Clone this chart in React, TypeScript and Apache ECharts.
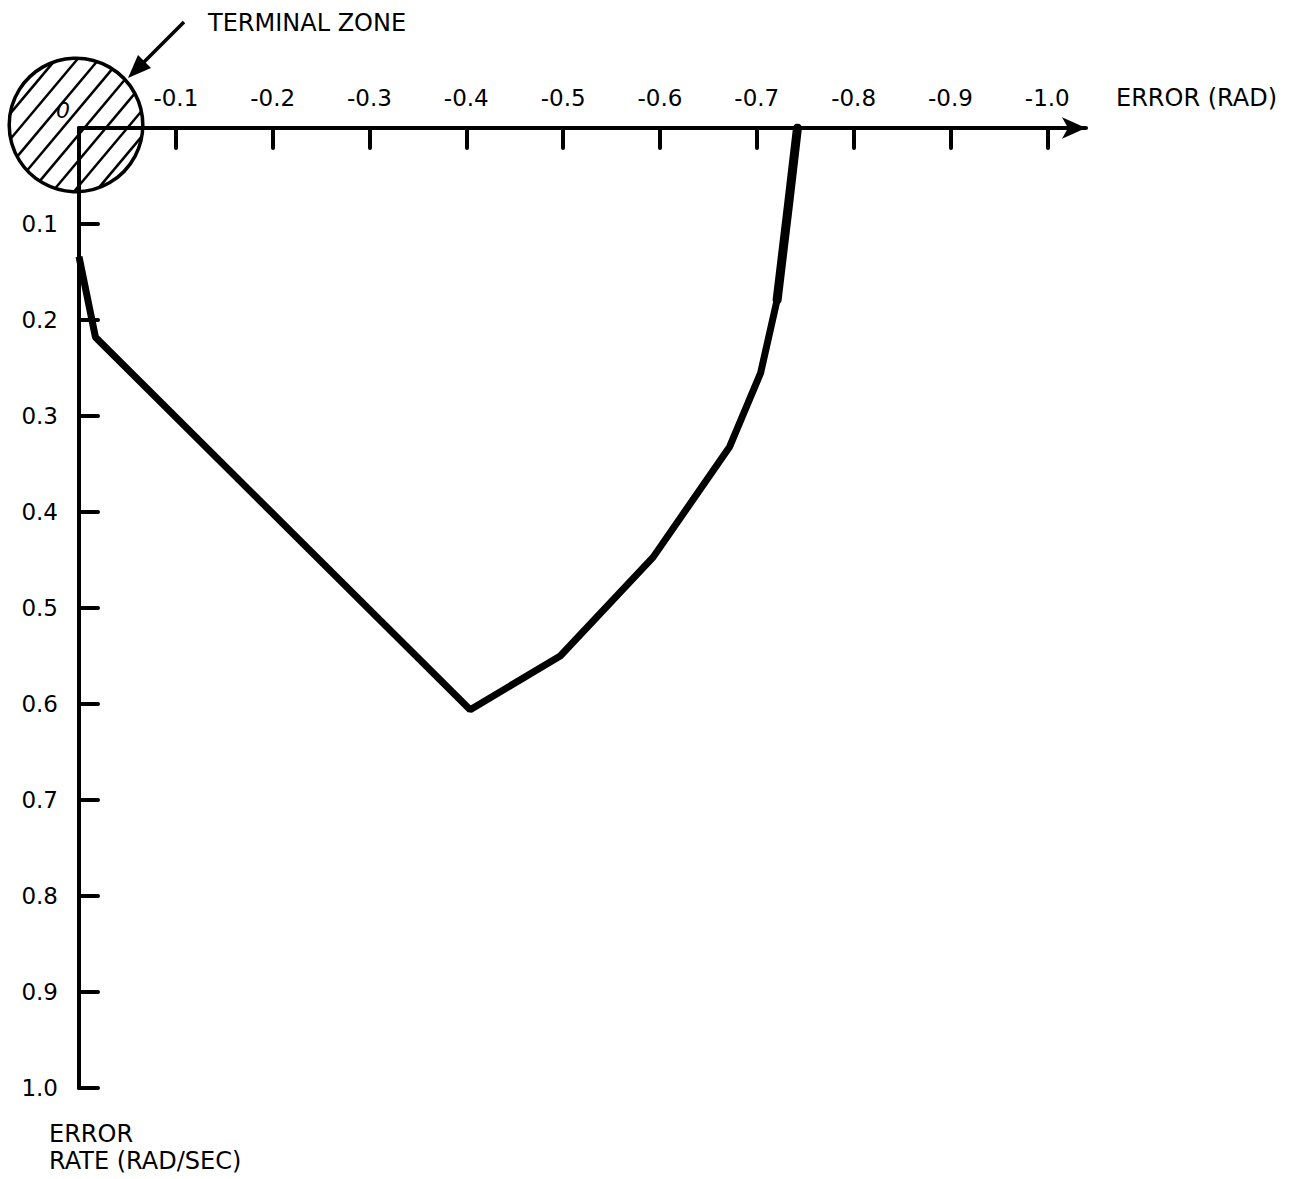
import React, { useEffect, useRef } from "react";
import * as echarts from "echarts";

// Phase-plane trajectory: error (rad) vs. error rate (rad/sec)
const errorTicks = [-0.1, -0.2, -0.3, -0.4, -0.5, -0.6, -0.7, -0.8, -0.9, -1.0];
const rateTicks = [0.1, 0.2, 0.3, 0.4, 0.5, 0.6, 0.7, 0.8, 0.9, 1.0];

// [error, error rate] vertices of the switching trajectory
const trajectory: [number, number][] = [
  [0, 0.134],
  [-0.017, 0.218],
  [-0.404, 0.606],
  [-0.497, 0.55],
  [-0.593, 0.447],
  [-0.672, 0.332],
  [-0.704, 0.255],
  [-0.721, 0.179],
  [-0.733, 0.078],
  [-0.742, 0],
];
// steep final approach, drawn heavier
const finalApproach: [number, number][] = [
  [-0.721, 0.179],
  [-0.733, 0.078],
  [-0.742, 0],
];

// terminal zone: [error, rate, radius in rad]
const terminalZone: [number, number, number][] = [[0, 0, 0.069]];

const FONT = "DejaVu Sans";

export default function App() {
  const ref = useRef<HTMLDivElement>(null);

  useEffect(() => {
    if (!ref.current) return;
    const chart = echarts.init(ref.current, undefined, { renderer: "svg" });

    const option: any = {
      animation: false,
      backgroundColor: "#ffffff",
      grid: { left: 79, top: 128, width: 1007, height: 960, containLabel: false },
      xAxis: {
        type: "value",
        position: "top",
        inverse: true,
        min: -1.04,
        max: 0,
        splitLine: { show: false },
        axisLine: {
          show: true,
          onZero: false,
          symbol: ["none", "arrow"],
          symbolSize: [16, 24],
          lineStyle: { color: "#000", width: 4 },
        },
        axisTick: {
          show: true,
          inside: true,
          length: 20,
          customValues: errorTicks,
          lineStyle: { color: "#000", width: 4, cap: "round" },
        },
        axisLabel: {
          show: true,
          margin: 19,
          customValues: errorTicks,
          formatter: (v: number) => "-" + Math.abs(v).toFixed(1),
          color: "#000",
          fontFamily: FONT,
          fontSize: 23,
        },
      },
      yAxis: {
        type: "value",
        inverse: true,
        min: 0,
        max: 1,
        splitLine: { show: false },
        axisLine: {
          show: true,
          onZero: false,
          lineStyle: { color: "#000", width: 4 },
        },
        axisTick: {
          show: true,
          inside: true,
          length: 19,
          customValues: rateTicks,
          lineStyle: { color: "#000", width: 4, cap: "round" },
        },
        axisLabel: {
          show: true,
          margin: 21,
          customValues: rateTicks,
          formatter: (v: number) => v.toFixed(1),
          color: "#000",
          fontFamily: FONT,
          fontSize: 23,
        },
      },
      series: [
        {
          type: "line",
          data: trajectory,
          symbol: "none",
          lineStyle: { color: "#000", width: 7 },
          z: 3,
        },
        {
          type: "line",
          data: finalApproach,
          symbol: "none",
          lineStyle: { color: "#000", width: 9, cap: "round", join: "round" },
          z: 3,
        },
        {
          type: "custom",
          data: terminalZone,
          z: 4,
          renderItem: (_params: any, api: any) => {
            const c = api.coord([api.value(0), api.value(1)]);
            const r = Math.abs(api.size([api.value(2), 0])[0]);
            const cx = c[0] - 3;
            const cy = c[1] - 3;
            const ang = (50 * Math.PI) / 180;
            const t = [Math.cos(ang), -Math.sin(ang)];
            const n = [Math.sin(ang), Math.cos(ang)];
            const step = 16.5;
            const children: any[] = [];
            for (let d = -r + step * 0.55; d < r; d += step) {
              const h = Math.sqrt(r * r - d * d);
              const mx = cx + d * n[0];
              const my = cy + d * n[1];
              children.push({
                type: "line",
                shape: {
                  x1: mx - h * t[0],
                  y1: my - h * t[1],
                  x2: mx + h * t[0],
                  y2: my + h * t[1],
                },
                style: { stroke: "#000", lineWidth: 2.5 },
              });
            }
            children.push({
              type: "circle",
              shape: { cx, cy, r },
              style: { fill: "none", stroke: "#000", lineWidth: 3.5 },
            });
            children.push({
              type: "text",
              style: {
                text: "0",
                x: c[0] - 16,
                y: c[1] - 18,
                align: "center",
                verticalAlign: "middle",
                fill: "#000",
                font: `italic 22px ${FONT}`,
              },
            });
            return { type: "group", children };
          },
        },
      ],
      graphic: [
        {
          type: "text",
          left: 1116,
          top: 86,
          style: { text: "ERROR (RAD)", fill: "#000", font: `24px ${FONT}` },
        },
        {
          type: "text",
          left: 208,
          top: 11,
          style: { text: "TERMINAL ZONE", fill: "#000", font: `24px ${FONT}` },
        },
        {
          type: "text",
          left: 49,
          top: 1120,
          style: {
            text: "ERROR\nRATE (RAD/SEC)",
            fill: "#000",
            font: `24px ${FONT}`,
            lineHeight: 27,
          },
        },
        {
          type: "line",
          shape: { x1: 184, y1: 22, x2: 140, y2: 66 },
          style: { stroke: "#000", lineWidth: 3.5 },
        },
        {
          type: "polygon",
          shape: {
            points: [
              [128, 78],
              [151, 68],
              [138, 55],
            ],
          },
          style: { fill: "#000" },
        },
      ],
    };

    chart.setOption(option);
    return () => chart.dispose();
  }, []);

  return (
    <div
      ref={ref}
      style={{ position: "fixed", left: 0, top: 0, width: 1304, height: 1179, background: "#fff" }}
    />
  );
}
